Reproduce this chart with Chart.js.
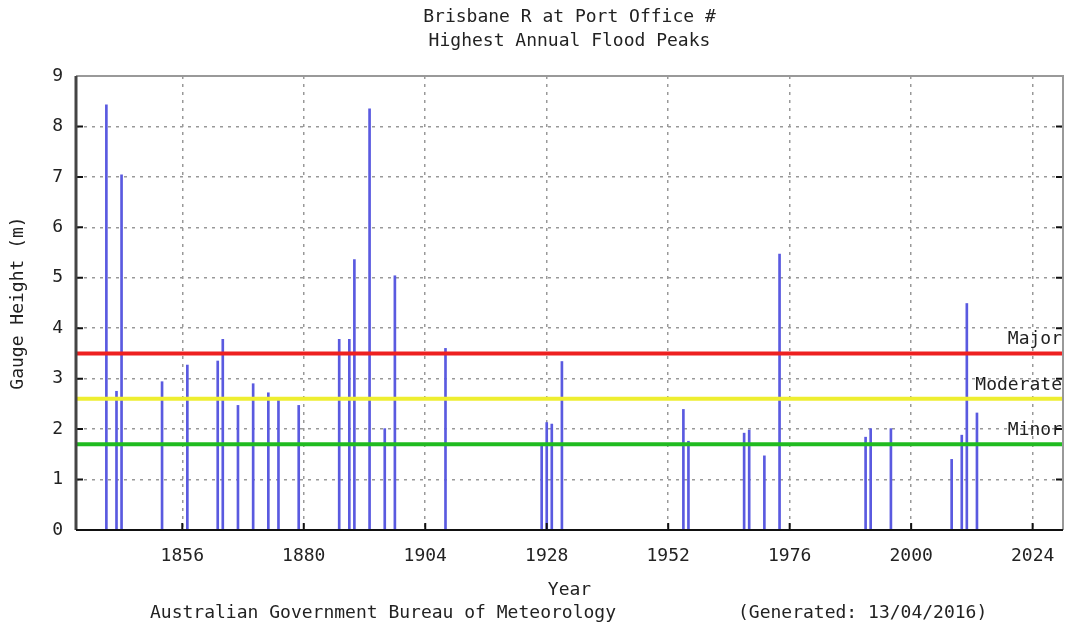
<!DOCTYPE html>
<html>
<head>
<meta charset="utf-8">
<script src="https://cdn.jsdelivr.net/npm/chart.js@4"></script>
<style>
  html, body { margin: 0; padding: 0; background: #fff; }
</style>
</head>
<body>
<canvas id="chart" width="1065" height="629"></canvas>
<script>
// annual flood peaks (year, gauge height in m)
const years = [1841, 1843, 1844, 1852, 1857, 1863, 1864, 1867, 1870, 1873, 1875, 1879,
               1887, 1889, 1890, 1893, 1896, 1898, 1908, 1927, 1928, 1929, 1931, 1955,
               1956, 1967, 1968, 1971, 1974, 1991, 1992, 1996, 2008, 2010, 2011, 2013]
const peaks = [8.43, 2.75, 7.04, 2.94, 3.27, 3.35, 3.78, 2.47, 2.90, 2.72, 2.61, 2.47,
               3.78, 3.78, 5.36, 8.35, 2.01, 5.04, 3.60, 1.69, 2.13, 2.10, 3.34, 2.39,
               1.76, 1.92, 1.98, 1.47, 5.47, 1.84, 2.01, 2.01, 1.40, 1.88, 4.49, 2.32]

// flood classification levels
const levelNames = ["Major", "Moderate", "Minor"]
const levelValues = [3.5, 2.6, 1.7]
const levelColors = ["#ee2020", "#eeee30", "#20bb20"]

const xTicks = [1856, 1880, 1904, 1928, 1952, 1976, 2000, 2024]
const xMin = 1835, xMax = 2030
const yMin = 0, yMax = 9

const titleLines = ["Brisbane R at Port Office #", "Highest Annual Flood Peaks"]
const xTitle = "Year"
const yTitle = "Gauge Height (m)"
const footerLeft = "Australian Government Bureau of Meteorology"
const footerRight = "(Generated: 13/04/2016)"

const FONT = "'DejaVu Sans Mono', 'Liberation Mono', monospace"
Chart.defaults.font.family = FONT
Chart.defaults.font.size = 18
Chart.defaults.color = "#222"

const datasets = [{
    type: "bar",
    data: years.map((y, i) => ({x: y, y: peaks[i]})),
    backgroundColor: "#5a5ae0",
    barThickness: 2,
    order: 2
}]
levelValues.forEach((v, i) => {
    datasets.push({
        type: "line",
        data: [{x: xMin, y: v}, {x: xMax, y: v}],
        borderColor: levelColors[i],
        borderWidth: 4,
        pointRadius: 0,
        order: 1
    })
})

const decorations = {
    id: "decorations",
    afterDraw(chart){
        const ctx = chart.ctx
        const a = chart.chartArea
        const xs = chart.scales.x, ys = chart.scales.y
        ctx.save()

        // inner tick marks
        ctx.strokeStyle = "#111"
        ctx.lineWidth = 2
        ctx.beginPath()
        for(let v = yMin; v <= yMax; v++){
            const py = ys.getPixelForValue(v)
            ctx.moveTo(a.left, py); ctx.lineTo(a.left + 7, py)
            ctx.moveTo(a.right, py); ctx.lineTo(a.right - 7, py)
        }
        for(let t of xTicks){
            const px = xs.getPixelForValue(t)
            ctx.moveTo(px, a.bottom); ctx.lineTo(px, a.bottom - 7)
        }
        ctx.stroke()

        // frame
        ctx.strokeStyle = "#999"
        ctx.lineWidth = 2
        ctx.beginPath()
        ctx.moveTo(a.left, a.top); ctx.lineTo(a.right, a.top); ctx.lineTo(a.right, a.bottom)
        ctx.stroke()
        ctx.strokeStyle = "#444"
        ctx.lineWidth = 3
        ctx.beginPath()
        ctx.moveTo(a.left, a.top); ctx.lineTo(a.left, a.bottom)
        ctx.stroke()
        ctx.strokeStyle = "#111"
        ctx.lineWidth = 2
        ctx.beginPath()
        ctx.moveTo(a.left, a.bottom); ctx.lineTo(a.right, a.bottom)
        ctx.stroke()

        // level labels
        ctx.fillStyle = "#222"
        ctx.font = `18px ${FONT}`
        ctx.textAlign = "right"
        ctx.textBaseline = "middle"
        levelNames.forEach((name, i) => {
            ctx.fillText(name, a.right - 1, ys.getPixelForValue(levelValues[i]) - 14)
        })

        // titles and footer
        const cx = (a.left + a.right) / 2
        ctx.textAlign = "center"
        ctx.fillText(titleLines[0], cx, 17)
        ctx.fillText(titleLines[1], cx, 41)
        ctx.fillText(xTitle, cx, 590)
        ctx.textAlign = "left"
        ctx.fillText(footerLeft, 150, 613)
        ctx.fillText(footerRight, 738, 613)

        ctx.translate(18, (a.top + a.bottom) / 2)
        ctx.rotate(-Math.PI / 2)
        ctx.textAlign = "center"
        ctx.fillText(yTitle, 0, 0)
        ctx.restore()
    }
}

new Chart(document.getElementById("chart"), {
    type: "bar",
    data: {datasets: datasets},
    options: {
        responsive: false,
        animation: false,
        layout: {padding: {left: 36, top: 76, right: 2, bottom: 59}},
        plugins: {legend: {display: false}, tooltip: {enabled: false}},
        scales: {
            x: {
                type: "linear",
                min: xMin,
                max: xMax,
                offset: false,
                grid: {offset: false, color: "#999", lineWidth: 1.5, drawTicks: false},
                border: {display: false, dash: [3, 5]},
                afterBuildTicks: scale => { scale.ticks = xTicks.map(v => ({value: v})) },
                afterFit: scale => {
                    scale.height = 40
                    scale.paddingLeft = 0
                    scale.paddingRight = 0
                },
                ticks: {padding: 16, maxRotation: 0, callback: v => String(v)}
            },
            y: {
                min: yMin,
                max: yMax,
                grid: {color: "#999", lineWidth: 1.5, drawTicks: false},
                border: {display: false, dash: [3, 5]},
                afterFit: scale => {
                    scale.width = 40
                    scale.paddingTop = 0
                    scale.paddingBottom = 0
                },
                ticks: {stepSize: 1, padding: 13}
            }
        }
    },
    plugins: [decorations]
})
</script>
</body>
</html>
